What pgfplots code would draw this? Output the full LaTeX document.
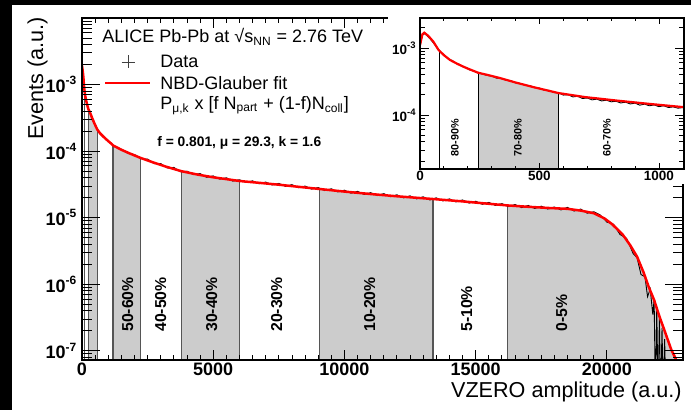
\documentclass[border=0pt]{standalone}
\usepackage{pgfplots}
\pgfplotsset{compat=1.18}
\usepackage{pgfplotstable}
\usepackage{fontspec}
\setmainfont{Liberation Sans}
\definecolor{shade}{HTML}{CCCCCC}
\definecolor{bline}{HTML}{555555}
\newcommand{\fs}[1]{\fontsize{#1}{#1}\selectfont}

\pgfplotstableread{
x y
0 1.10e-3
10 1.60e-3
18 1.69e-3
35 1.51e-3
56 1.24e-3
77 9.4e-4
100 7.8e-4
126 6.6e-4
160 5.7e-4
195 5.0e-4
243 4.27e-4
290 3.9e-4
335 3.55e-4
400 3.05e-4
475 2.6e-4
580 2.12e-4
690 1.85e-4
830 1.63e-4
970 1.45e-4
1100 1.31e-4
1181 1.22e-4
1500 1.05e-4
1800 9.3e-5
2237 7.9e-5
2700 6.8e-5
3200 5.85e-5
3788 5.0e-5
4400 4.45e-5
5000 4.05e-5
5500 3.8e-5
6010 3.56e-5
6800 3.33e-5
7546 3.12e-5
8300 2.9e-5
9059 2.7e-5
10000 2.47e-5
11000 2.27e-5
12000 2.1e-5
13377 1.91e-5
14500 1.76e-5
15500 1.62e-5
16213 1.53e-5
17000 1.46e-5
17800 1.40e-5
18500 1.36e-5
19000 1.28e-5
19500 1.17e-5
19900 9.8e-6
20200 8.0e-6
20600 5.6e-6
20900 3.8e-6
21150 2.6e-6
21400 1.5e-6
21600 9.0e-7
21800 5.8e-7
22000 3.3e-7
22200 2.0e-7
22450 1.05e-7
22750 6.0e-8
}\fittab

\pgfplotstableread{
x y
0 1.20e-3
100 8.0e-4
200 4.9e-4
300 3.8e-4
400 3.1e-4
500 2.5e-4
600 2.08e-4
700 1.86e-4
800 1.64e-4
900 1.55e-4
1000 1.40e-4
1100 1.33e-4
1250 1.16e-4
1500 1.07e-4
1750 9.3e-5
2000 8.9e-5
2250 7.7e-5
2500 7.6e-5
2750 6.5e-5
3000 6.5e-5
3250 5.6e-5
3500 5.7e-5
3750 4.9e-5
4000 5.0e-5
4250 4.45e-5
4500 4.6e-5
4750 4.05e-5
5000 4.25e-5
5250 3.8e-5
5500 3.98e-5
5750 3.55e-5
6000 3.72e-5
6250 3.38e-5
6500 3.58e-5
6750 3.24e-5
7000 3.43e-5
7250 3.1e-5
7500 3.28e-5
7750 2.96e-5
8000 3.14e-5
8250 2.82e-5
8500 2.99e-5
8750 2.69e-5
9000 2.84e-5
9250 2.56e-5
9500 2.72e-5
9750 2.45e-5
10000 2.59e-5
10250 2.34e-5
10500 2.49e-5
10750 2.24e-5
11000 2.38e-5
11250 2.15e-5
11500 2.30e-5
11750 2.07e-5
12000 2.21e-5
12250 1.99e-5
12500 2.13e-5
12750 1.92e-5
13000 2.06e-5
13250 1.85e-5
13500 1.99e-5
13750 1.79e-5
14000 1.92e-5
14250 1.73e-5
14500 1.85e-5
14750 1.66e-5
15000 1.77e-5
15250 1.59e-5
15500 1.70e-5
15750 1.53e-5
16000 1.63e-5
16250 1.47e-5
16500 1.58e-5
16750 1.42e-5
17000 1.53e-5
17250 1.38e-5
17500 1.49e-5
17750 1.35e-5
18000 1.45e-5
18250 1.31e-5
18500 1.43e-5
18750 1.26e-5
19000 1.35e-5
19250 1.17e-5
19500 1.23e-5
19750 1.10e-5
20000 8.6e-6
20250 8.0e-6
20500 5.6e-6
20750 4.9e-6
21000 2.9e-6
21150 2.5e-6
21300 1.4e-6
21450 1.3e-6
21550 6.5e-7
21650 8.5e-7
21750 3.5e-7
21800 6.0e-7
21850 2.0e-8
21900 4.5e-7
21950 2.0e-8
22000 3.0e-7
22050 2.0e-8
22100 2.2e-7
22150 2.0e-8
22200 1.5e-7
22250 2.0e-8
}\datatab

\pgfplotstableread{
x y
0 1.05e-3
10 1.55e-3
20 1.64e-3
30 1.52e-3
45 1.33e-3
60 1.14e-3
75 9.8e-4
90 8.4e-4
105 7.7e-4
120 6.8e-4
135 6.5e-4
150 5.9e-4
165 5.7e-4
180 5.2e-4
195 5.1e-4
210 4.65e-4
225 4.55e-4
240 4.25e-4
260 4.1e-4
280 3.9e-4
300 3.8e-4
320 3.55e-4
340 3.5e-4
360 3.3e-4
380 3.25e-4
400 3.0e-4
420 2.95e-4
440 2.78e-4
460 2.74e-4
480 2.55e-4
500 2.52e-4
520 2.34e-4
540 2.33e-4
560 2.16e-4
580 2.15e-4
600 1.98e-4
620 2.0e-4
640 1.86e-4
660 1.9e-4
680 1.76e-4
700 1.79e-4
720 1.68e-4
740 1.72e-4
760 1.62e-4
780 1.66e-4
800 1.57e-4
820 1.6e-4
840 1.51e-4
860 1.55e-4
880 1.46e-4
900 1.5e-4
920 1.40e-4
940 1.45e-4
960 1.37e-4
980 1.41e-4
1000 1.33e-4
1020 1.37e-4
1040 1.29e-4
1060 1.32e-4
1080 1.26e-4
1100 1.29e-4
}\insdata

\begin{document}
\begin{tikzpicture}
\path[use as bounding box, fill=black] (0,0) rectangle (345.5pt,205pt);
\fill[white] (6pt,0) rectangle (345.5pt,202.5pt);

% ---------------- main axis
\begin{axis}[
  at={(41pt,25pt)}, anchor=south west,
  scale only axis, width=300.5pt, height=171pt,
  xmin=0, xmax=22900,
  ymode=log, ymin=7.3e-8, ymax=1e-2,
  scaled x ticks=false,
  axis on top,
  axis line style={line width=0.75pt},
  tick align=inside, tick pos=both,
  tick style={black, line width=0.45pt},
  xtick={0,5000,10000,15000,20000},
  xticklabels={0,5000,10000,15000,20000},
  minor x tick num=9,
  xtick style={/pgfplots/major tick length=5pt,/pgfplots/minor tick length=2.5pt},
  ytick style={/pgfplots/major tick length=9pt,/pgfplots/minor tick length=5pt},
  ytick={1e-7,1e-6,1e-5,1e-4,1e-3},
  yticklabels={\textbf{10\textsuperscript{-7}},\textbf{10\textsuperscript{-6}},\textbf{10\textsuperscript{-5}},\textbf{10\textsuperscript{-4}},\textbf{10\textsuperscript{-3}}},
  minor ytick={8e-8,9e-8,2e-7,3e-7,4e-7,5e-7,6e-7,7e-7,8e-7,9e-7,2e-6,3e-6,4e-6,5e-6,6e-6,7e-6,8e-6,9e-6,2e-5,3e-5,4e-5,5e-5,6e-5,7e-5,8e-5,9e-5,2e-4,3e-4,4e-4,5e-4,6e-4,7e-4,8e-4,9e-4,2e-3,3e-3,4e-3,5e-3,6e-3,7e-3,8e-3,9e-3},
  xticklabel style={font=\bfseries\fs{9pt}, inner sep=0pt, yshift=-1.5pt},
  yticklabel style={font=\bfseries\fs{9pt}, inner sep=0pt, xshift=-2.2pt},
]
\addplot[fill=shade, draw=none] coordinates {(245,1e-9) (245,4.25e-4) (290,3.9e-4) (335,3.55e-4) (400,3.05e-4) (475,2.6e-4) (580,2.12e-4) (580,1e-9)};
\addplot[fill=shade, draw=none] coordinates {(1181,1e-9) (1181,1.22e-4) (1500,1.05e-4) (1800,9.3e-5) (2237,7.9e-5) (2237,1e-9)};
\addplot[fill=shade, draw=none] coordinates {(3788,1e-9) (3788,5.0e-5) (4400,4.45e-5) (5000,4.05e-5) (5500,3.8e-5) (6010,3.56e-5) (6010,1e-9)};
\addplot[fill=shade, draw=none] coordinates {(9059,1e-9) (9059,2.7e-5) (10000,2.47e-5) (11000,2.27e-5) (12000,2.1e-5) (13377,1.91e-5) (13377,1e-9)};
\addplot[fill=shade, draw=none] coordinates {(16213,1e-9) (16213,1.53e-5) (17000,1.46e-5) (17800,1.40e-5) (18500,1.36e-5) (19000,1.28e-5) (19500,1.17e-5) (19900,9.8e-6) (20200,8.0e-6) (20600,5.6e-6) (20900,3.8e-6) (21150,2.6e-6) (21400,1.5e-6) (21600,9.0e-7) (21800,5.8e-7) (22000,3.3e-7) (22200,2.0e-7) (22450,1.05e-7) (22750,6.0e-8) (22750,1e-9)};
\addplot[bline, line width=0.6pt] coordinates {(82,1e-9) (82,9.0e-4)};
\addplot[bline, line width=0.6pt] coordinates {(245,1e-9) (245,4.25e-4)};
\addplot[bline, line width=0.6pt] coordinates {(580,1e-9) (580,2.12e-4)};
\addplot[bline, line width=0.6pt] coordinates {(1181,1e-9) (1181,1.22e-4)};
\addplot[bline, line width=0.6pt] coordinates {(2237,1e-9) (2237,7.9e-5)};
\addplot[bline, line width=0.6pt] coordinates {(3788,1e-9) (3788,5.0e-5)};
\addplot[bline, line width=0.6pt] coordinates {(6010,1e-9) (6010,3.56e-5)};
\addplot[bline, line width=0.6pt] coordinates {(9059,1e-9) (9059,2.7e-5)};
\addplot[bline, line width=0.6pt] coordinates {(13377,1e-9) (13377,1.91e-5)};
\addplot[bline, line width=0.6pt] coordinates {(16213,1e-9) (16213,1.53e-5)};
\addplot[black, line width=0.45pt] table {\datatab};
\addplot[red, line width=1.25pt] table {\fittab};
\begin{scope}[every node/.style={rotate=90, anchor=west, inner sep=0pt, font=\bfseries\fs{7.9pt}}]
\node at (axis cs:1742,1.92e-7) {50-60\%};
\node at (axis cs:3000,1.92e-7) {40-50\%};
\node at (axis cs:4943,1.92e-7) {30-40\%};
\node at (axis cs:7420,1.92e-7) {20-30\%};
\node at (axis cs:10960,1.92e-7) {10-20\%};
\node at (axis cs:14660,1.92e-7) {5-10\%};
\node at (axis cs:18280,1.92e-7) {0-5\%};
\end{scope}
\end{axis}

% white pad behind the inset
\fill[white] (194pt,113pt) rectangle (345.5pt,202.5pt);

% ---------------- inset
\begin{axis}[
  at={(210pt,120.5pt)}, anchor=south west,
  scale only axis, width=132pt, height=75.5pt,
  xmin=0, xmax=1105,
  ymode=log, ymin=1.56e-5, ymax=2.8e-3,
  scaled x ticks=false,
  axis background/.style={fill=white},
  axis on top,
  axis line style={line width=0.55pt},
  tick align=inside, tick pos=both,
  tick style={black, line width=0.4pt},
  xtick={0,500,1000},
  xticklabels={0,500,1000},
  minor x tick num=4,
  xtick style={/pgfplots/major tick length=3pt,/pgfplots/minor tick length=1.5pt},
  ytick style={/pgfplots/major tick length=4.5pt,/pgfplots/minor tick length=2.5pt},
  ytick={1e-4,1e-3},
  yticklabels={\textbf{10\textsuperscript{-4}},\textbf{10\textsuperscript{-3}}},
  minor ytick={2e-5,3e-5,4e-5,5e-5,6e-5,7e-5,8e-5,9e-5,2e-4,3e-4,4e-4,5e-4,6e-4,7e-4,8e-4,9e-4,2e-3},
  xticklabel style={font=\bfseries\fs{6.75pt}, inner sep=0pt, yshift=-0.9pt},
  yticklabel style={font=\bfseries\fs{6.75pt}, inner sep=0pt, xshift=-1.5pt},
]
\addplot[fill=shade, draw=none] coordinates {(245,1e-9) (245,4.25e-4) (290,3.9e-4) (335,3.55e-4) (400,3.05e-4) (475,2.6e-4) (580,2.12e-4) (580,1e-9)};
\addplot[black, line width=0.4pt] coordinates {(80,1e-9) (80,9.2e-4)};
\addplot[black, line width=0.4pt] coordinates {(245,1e-9) (245,4.25e-4)};
\addplot[black, line width=0.4pt] coordinates {(580,1e-9) (580,2.12e-4)};
\addplot[black, line width=0.45pt] table {\insdata};
\addplot[red, line width=1.1pt] table {\fittab};
\begin{scope}[every node/.style={rotate=90, anchor=west, inner sep=0pt, font=\bfseries\fs{5.4pt}}]
\node at (axis cs:146,2.36e-5) {80-90\%};
\node at (axis cs:410,2.36e-5) {70-80\%};
\node at (axis cs:782,2.36e-5) {60-70\%};
\end{scope}
\end{axis}

% ---------------- texts (image-pixel coordinates)
\begin{scope}[x=0.5pt, y=-0.5pt, yshift=205pt]
\node[anchor=base west, inner sep=0pt, font=\fs{9pt}] at (102,43) {ALICE Pb-Pb at √s\textsubscript{NN} = 2.76 TeV};
\draw[black!75, line width=0.45pt] (121.5,62) -- (134.5,62) (128,55.5) -- (128,68.5);
\node[anchor=base west, inner sep=0pt, font=\fs{9pt}] at (160,68) {Data};
\draw[red, line width=1.25pt] (105,83) -- (150,83);
\node[anchor=base west, inner sep=0pt, font=\fs{9pt}] at (160,90) {NBD-Glauber fit};
\node[anchor=base west, inner sep=0pt, font=\fs{9pt}] at (160,110) {P\textsubscript{μ,k} x [f N\textsubscript{part} + (1-f)N\textsubscript{coll}]};
\node[anchor=base west, inner sep=0pt, font=\bfseries\fs{6.9pt}] at (157,147) {f = 0.801, μ = 29.3, k = 1.6};
\node[anchor=base east, inner sep=0pt, font=\fs{10.8pt}] at (682,398) {VZERO amplitude (a.u.)};
\node[anchor=base east, inner sep=0pt, rotate=90, font=\fs{10.8pt}] at (43,17) {Events (a.u.)};
\end{scope}
\end{tikzpicture}
\end{document}
